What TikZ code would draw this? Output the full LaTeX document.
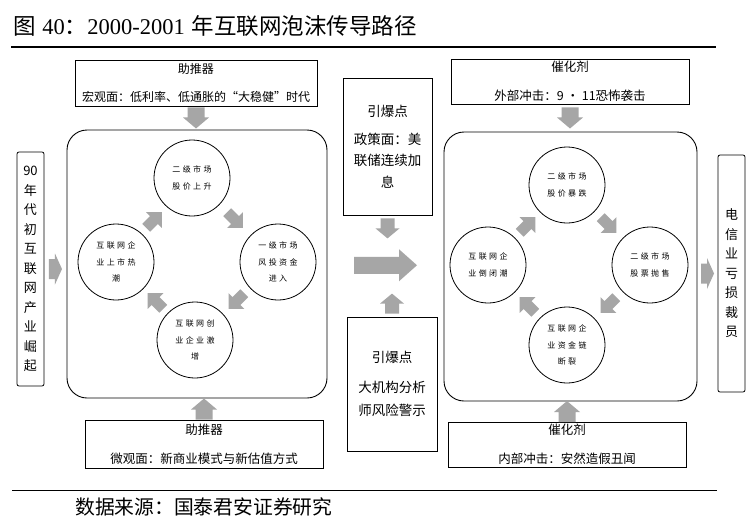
\documentclass[tikz,border=0pt]{standalone}
\usepackage{fontspec}
\newfontfamily\cjk{Noto Sans CJK SC}
\newfontfamily\cjksp[LetterSpace=30]{Noto Sans CJK SC}
\newfontfamily\latinserif{Liberation Serif}
\usetikzlibrary{calc}
\definecolor{arrowgray}{RGB}{166,166,166}
\tikzset{
  box/.style={draw=black, line width=0.8pt, inner sep=0pt, align=center, font=\cjk\fontsize{12.5}{29}\selectfont},
  midbox/.style={draw=black, line width=0.8pt, inner sep=0pt, align=center},
  tallbox/.style={draw=black, line width=0.8pt, rounded corners=2pt, inner sep=0pt, align=center, font=\cjk\fontsize{13}{19.5}\selectfont},
  panel/.style={draw=black, line width=0.9pt, rounded corners=20pt, inner sep=0pt},
  ring/.style={draw=black, line width=0.8pt, circle, minimum size=76pt, inner sep=0pt, align=center, font=\cjksp\fontsize{8}{16.5}\selectfont},
  pics/blk/.style n args={4}{code={
    \fill[arrowgray] (-#1,-#2) -- (#4,-#2) -- (#4,-#3) -- (#1,0) -- (#4,#3) -- (#4,#2) -- (-#1,#2) -- cycle;}},
}
\begin{document}
\begin{tikzpicture}[x=1pt,y=-1pt]
\useasboundingbox (0,0) rectangle (756,531);
\fill[white] (0,0) rectangle (756,531);

% title and rules
\node[anchor=base west, inner sep=0pt, font=\fontsize{22.5}{26}\selectfont] (title) at (13,34.5)
  {{\cjk 图} {\latinserif 40}{\cjk ：}{\latinserif 2000-2001} {\cjk 年互联网泡沫传导路径}};
\draw[line width=1.1pt] (11,47) -- (716,47);
\draw[line width=1pt] (12,490) -- (717,490);
\node[anchor=base west, inner sep=0pt, font=\cjk\fontsize{19.8}{24}\selectfont] (source) at (75,514) {数据来源：国泰君安证券研究};

% boxes
\node[box, minimum width=242, minimum height=46, font=\cjk\fontsize{12}{28}\selectfont] (A1) at (196,83) {助推器\\宏观面：低利率、低通胀的“大稳健”时代};
\node[box, minimum width=238, minimum height=48] (A2) at (204,444) {助推器\\微观面：新商业模式与新估值方式};
\node[box, minimum width=238, minimum height=45] (C1) at (570,81.5) {催化剂\\外部冲击：9 · 11恐怖袭击};
\node[box, minimum width=238, minimum height=45] (C2) at (567,444.5) {催化剂\\内部冲击：安然造假丑闻};

\node[midbox, minimum width=89, minimum height=137, font=\cjk\fontsize{13.5}{21.5}\selectfont] (T1) at (387.5,146.5) {引爆点\\[6pt]政策面：美\\联储连续加\\息};
\node[midbox, minimum width=90, minimum height=134, font=\cjk\fontsize{13.5}{23}\selectfont] (T2) at (392,384) {引爆点\\[7pt]大机构分析\\师风险警示};

\node[tallbox, minimum width=27, minimum height=234] (L) at (30.5,269) {90\\年\\代\\初\\互\\联\\网\\产\\业\\崛\\起};
\node[tallbox, minimum width=27, minimum height=237] (R) at (731.5,273.5) {电\\信\\业\\亏\\损\\裁\\员};

% panels
\node[panel, minimum width=260, minimum height=268] (P1) at (197,264) {};
\node[panel, minimum width=253, minimum height=269] (P2) at (570.5,266.5) {};

% circles left
\node[ring] (t1) at (192,178) {二级市场\\股价上升};
\node[ring] (r1) at (278,262) {一级市场\\风投资金\\进入};
\node[ring] (b1) at (195,340) {互联网创\\业企业激\\增};
\node[ring] (l1) at (116,262) {互联网企\\业上市热\\潮};
% circles right
\node[ring] (t2) at (567,185) {二级市场\\股价暴跌};
\node[ring] (r2) at (650,265) {二级市场\\股票抛售};
\node[ring] (b2) at (567,345) {互联网企\\业资金链\\断裂};
\node[ring] (l2) at (488,265) {互联网企\\业倒闭潮};

% cycle arrows
\pic[rotate=45]   at ($(l1)!0.5!(t1)$) {blk={11}{5.5}{11}{0}};
\pic[rotate=-45]  at ($(t1)!0.5!(r1)$) {blk={11}{5.5}{11}{0}};
\pic[rotate=-135] at ($(r1)!0.5!(b1)$) {blk={11}{5.5}{11}{0}};
\pic[rotate=135]  at ($(b1)!0.5!(l1)$) {blk={11}{5.5}{11}{0}};
\pic[rotate=45]   at ($(l2)!0.5!(t2)$) {blk={11}{5.5}{11}{0}};
\pic[rotate=-45]  at ($(t2)!0.5!(r2)$) {blk={11}{5.5}{11}{0}};
\pic[rotate=-135] at ($(r2)!0.5!(b2)$) {blk={11}{5.5}{11}{0}};
\pic[rotate=135]  at ($(b2)!0.5!(l2)$) {blk={11}{5.5}{11}{0}};

% box arrows
\pic[rotate=-90] at ($(A1.south)!0.5!(A1.south|-P1.north)$) {blk={10.5}{8.5}{13}{-0.5}};
\pic[rotate=-90] at ($(C1.south)!0.5!(C1.south|-P2.north)$) {blk={10.5}{8.5}{13}{-0.5}};
\pic[rotate=90]  at ($(A2.north)!0.5!(A2.north|-P1.south)$) {blk={10.5}{8.5}{13}{-0.5}};
\pic[rotate=90]  at ($(C2.north)!0.5!(C2.north|-P2.south)$) {blk={10.5}{8.5}{13}{-0.5}};

% side arrows
\pic at ($(L.east)!0.5!(L.east-|P1.west)$) {blk={6.5}{10}{15.5}{-0.5}};
\pic at ($(P2.east|-R.west)!0.5!(R.west)$) {blk={6.5}{10}{15.5}{-0.5}};

% middle arrows
\coordinate (mid) at ($(P1.east)!0.5!(P2.west)$);
\pic at (mid) {blk={31.5}{8.5}{16}{13.5}};
\pic[rotate=-90] at ($(T1.south)+(0,13)$) {blk={10}{7}{12}{0}};
\pic[rotate=90]  at ($(T2.north)+(0,-13)$) {blk={10}{7}{12}{0}};
\end{tikzpicture}
\end{document}
